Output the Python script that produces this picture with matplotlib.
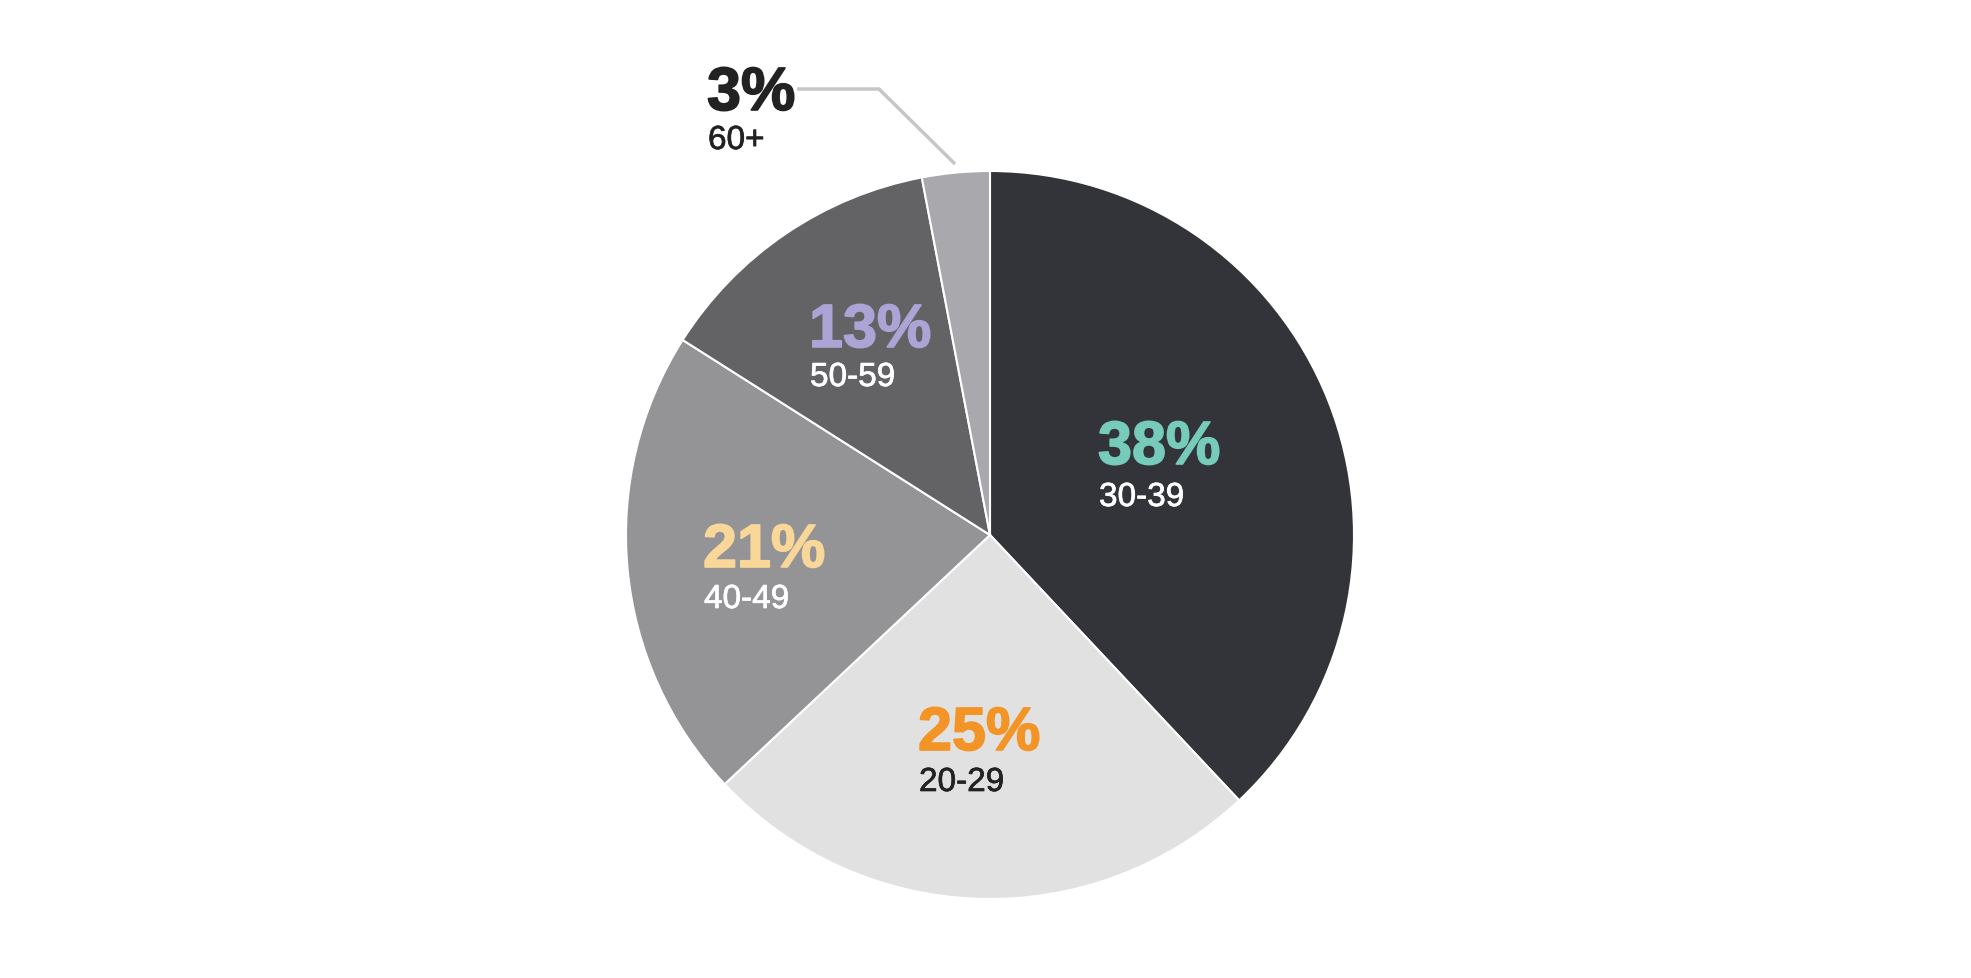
import matplotlib
matplotlib.use('Agg')
import matplotlib.pyplot as plt
import matplotlib.patheffects as pe

# data
ages = ['30-39', '20-29', '40-49', '50-59', '60+']
shares = [38, 25, 21, 13, 3]
slice_colors = ['#333439', '#e1e1e1', '#949497', '#636366', '#a9a9ad']
pct_colors = ['#76cbbb', '#f39426', '#f9d799', '#aba4d4', '#222222']
age_colors = ['#ffffff', '#222222', '#ffffff', '#ffffff', '#222222']

W, H = 1971, 979
fig = plt.figure(figsize=(W / 100, H / 100), dpi=100)
ax = fig.add_axes([0, 0, 1, 1])

cx, cy, r = 990, H - 536, 364
ax.pie(shares, colors=slice_colors, startangle=90, counterclock=False,
       center=(cx, cy), radius=r,
       wedgeprops=dict(edgecolor='white', linewidth=1.5))
ax.set_xlim(0, W)
ax.set_ylim(0, H)
ax.set_aspect('equal')
ax.axis('off')

# label positions (pixels from top-left): x, baseline of pct, baseline of age
spots = [(1098, 465, 507), (918, 751, 792), (703, 568, 609),
         (809, 348, 387), (707, 111, 150)]

for i in range(len(shares)):
    x, yp, ya = spots[i]
    ax.text(x, H - yp, str(shares[i]) + '%', color=pct_colors[i],
            fontsize=44, fontweight='bold', family='Liberation Sans',
            ha='left', va='baseline',
            path_effects=[pe.withStroke(linewidth=1.2, foreground=pct_colors[i])])
    ax.text(x + 1, H - ya, ages[i], color=age_colors[i],
            fontsize=24, family='Liberation Sans', ha='left', va='baseline',
            path_effects=[pe.withStroke(linewidth=0.5, foreground=age_colors[i])])

# leader for the small slice
ax.plot([797, 879, 955], [H - 90, H - 90, H - 165], color='#c6c6c8', lw=2.5,
        solid_capstyle='butt')

fig.savefig('out.png', dpi=100, facecolor='white')
